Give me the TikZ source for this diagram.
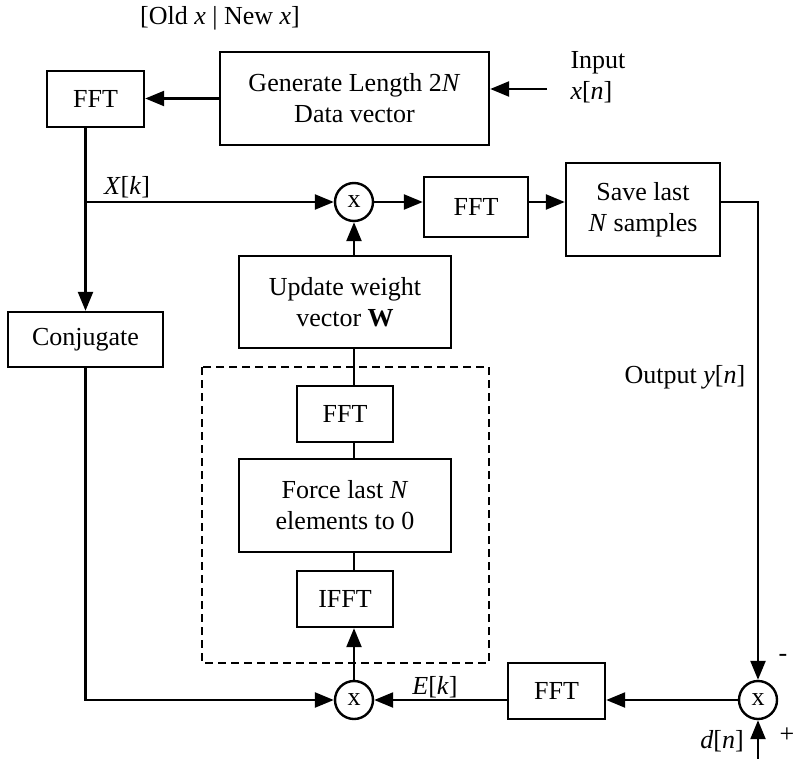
\documentclass[tikz,border=0pt]{standalone}
\usepackage{fontspec}
\setmainfont{Liberation Serif}
\usetikzlibrary{arrows.meta}
\begin{document}
\begin{tikzpicture}[x=1pt, y=-1pt,
    font=\fontsize{26}{31}\selectfont,
    box/.style={draw, rectangle, line width=2.4pt, inner sep=0pt, align=center},
    mult/.style={draw, circle, line width=2.4pt, inner sep=0pt, minimum size=38pt},
    arrow/.style={line width=2.4pt, -{Triangle[length=19pt, width=15pt]}},
    wire/.style={line width=2.4pt}
]
\useasboundingbox (0,0) rectangle (794,759);
\node (old) at (220,18) {[Old \textit{x} | New \textit{x}]};
\node[box, minimum width=97pt, minimum height=56pt] (fft1) at (95.5,99) {FFT};
\node[box, minimum width=269pt, minimum height=93pt] (gen) at (354.5,98.5) {Generate Length 2\textit{N}\\Data vector};
\node[anchor=west, align=left] (inlabel) at (567,77) {Input\\\textit{x}[\textit{n}]};
\coordinate (inp) at (547,89);
\node[mult] (mul1) at (354,202) {x};
\node[box, minimum width=104pt, minimum height=60pt] (fft2) at (476,207) {FFT};
\node[box, minimum width=154pt, minimum height=93pt] (save) at (643,209.5) {Save last\\\textit{N} samples};
\node[box, minimum width=212pt, minimum height=92pt] (upd) at (345,302) {Update weight\\vector \textbf{W}};
\node[box, minimum width=155pt, minimum height=55pt] (conj) at (85.5,339.5) {Conjugate};
\node[box, minimum width=96pt, minimum height=56pt] (fft3) at (345,414) {FFT};
\node[box, minimum width=212pt, minimum height=93pt] (force) at (345,505.5) {Force last \textit{N}\\elements to 0};
\node[box, minimum width=96pt, minimum height=56pt] (ifft) at (345,599) {IFFT};
\node[mult] (mul2) at (354,700) {x};
\node[box, minimum width=97pt, minimum height=56pt] (fft4) at (556.5,691) {FFT};
\node[mult] (mul3) at (758,700) {x};
\coordinate (outc) at (758,202);
\coordinate (dn) at (758,759);
\node (xk) at (127,187) {\textit{X}[\textit{k}]};
\node (ek) at (435,687) {\textit{E}[\textit{k}]};
\node (outlabel) at (685,377) {Output \textit{y}[\textit{n}]};
\node (dlabel) at (722,741) {\textit{d}[\textit{n}]};
\node (plus) at (787,735) {+};
\node (minus) at (783,658) {-};
\draw[wire, dash pattern=on 8pt off 5pt] (202,367) rectangle (489,663);
\draw[arrow] (inp) -- (inp -| gen.east);
\draw[arrow] (gen.west) -- (gen.west -| fft1.east);
\draw[wire] (conj.north |- fft1.south) -- (conj.north |- mul1);
\draw[arrow] (conj.north |- mul1) -- (mul1);
\draw[arrow] (conj.north |- mul1) -- (conj.north);
\draw[arrow] (mul1) -- (mul1 -| fft2.west);
\draw[arrow] (mul1 -| fft2.east) -- (mul1 -| save.west);
\draw[arrow] (mul1 -| save.east) -- (outc) -- (mul3);
\draw[arrow] (dn) -- (mul3);
\draw[arrow] (mul3) -- (mul3 -| fft4.east);
\draw[arrow] (mul3 -| fft4.west) -- (mul2);
\draw[arrow] (conj.south) |- (mul2);
\draw[arrow] (mul2) -- (mul2 |- ifft.south);
\draw[wire] (mul2 |- ifft.north) -- (mul2 |- force.south) (mul2 |- force.north) -- (mul2 |- fft3.south) (mul2 |- fft3.north) -- (mul2 |- upd.south);
\draw[arrow] (mul1 |- upd.north) -- (mul1);
\end{tikzpicture}
\end{document}
